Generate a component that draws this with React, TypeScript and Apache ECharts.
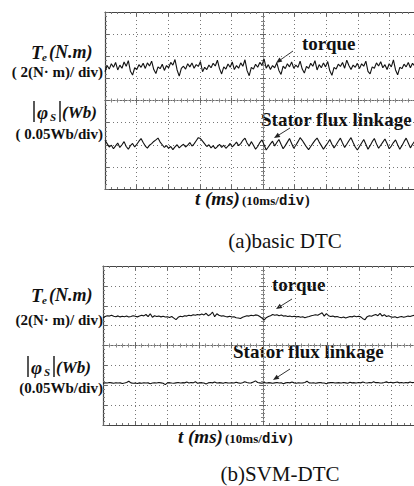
import React, { useEffect, useRef } from "react";
import * as echarts from "echarts";

// Oscilloscope traces, values in screen divisions (y: -4..4, centre = 0)
const torqueA = [
  1.30, 1.58, 1.42, 1.66, 1.50, 1.72, 1.38, 1.60, 1.46, 1.74,
  1.55, 1.80, 1.32, 1.15, 1.48, 1.40, 1.62, 1.50, 1.68, 1.45,
  1.70, 1.56, 1.78, 1.40, 1.22, 1.52, 1.44, 1.64, 1.36, 1.58,
  1.48, 1.72, 1.60, 1.85, 1.38, 1.10, 1.45, 1.55, 1.42, 1.66,
  1.52, 1.70, 1.46, 1.62, 1.54, 1.76, 1.30, 1.50, 1.40, 1.60,
  1.48, 1.68, 1.56, 1.82, 1.44, 1.20, 1.52, 1.42, 1.65, 1.50,
  1.74, 1.40, 1.58, 1.46, 1.70, 1.55, 1.84, 1.35, 1.12, 1.50,
  1.42, 1.64, 1.50, 1.72, 1.60, 1.88, 1.46, 1.62, 1.40, 1.58,
  1.48, 1.70, 1.36, 1.18, 1.55, 1.44, 1.66, 1.52, 1.74, 1.46,
  1.60, 1.50, 1.78, 1.42, 1.24, 1.54, 1.45, 1.68, 1.55, 1.80,
  1.38, 1.62, 1.48, 1.70, 1.52, 1.76, 1.34, 1.14, 1.50, 1.42,
  1.64, 1.54, 1.72, 1.46, 1.82, 1.58, 1.40, 1.60, 1.50, 1.68,
  1.44, 1.66, 1.55, 1.78, 1.32, 1.20, 1.52, 1.46, 1.70, 1.56,
  1.75, 1.48, 1.62, 1.40, 1.66, 1.52, 1.84, 1.38, 1.16, 1.50,
  1.44, 1.64, 1.52, 1.72, 1.48, 1.68, 1.56, 1.78, 1.42, 1.60,
];

const fluxA = [
  -1.80, -1.95, -2.10, -2.02, -2.18, -2.05, -1.92, -2.12, -2.00, -1.86,
  -2.08, -2.20, -2.04, -1.94, -2.10, -1.98, -1.84, -1.72, -1.90, -2.06,
  -2.15, -2.02, -1.95, -1.85, -1.78, -1.70, -1.88, -2.00, -2.12, -2.04,
  -2.16, -2.08, -2.22, -2.10, -2.00, -2.14, -2.05, -1.98, -2.10, -2.02,
  -1.90, -2.06, -1.96, -1.82, -1.68, -1.72, -1.84, -1.96, -2.08, -2.00,
  -2.14, -2.04, -2.18, -2.08, -1.98, -2.12, -2.02, -2.16, -2.06, -1.94,
  -2.10, -2.00, -1.88, -2.04, -1.95, -1.80, -1.70, -1.92, -2.06, -1.86,
  -2.02, -2.20, -2.08, -1.90, -1.78, -2.00, -2.24, -2.10, -1.96, -1.84,
  -2.06, -1.90, -1.76, -1.98, -2.18, -2.04, -1.88, -1.72, -1.94, -2.16,
  -2.02, -1.86, -1.68, -1.80, -1.95, -2.10, -2.22, -2.08, -1.94, -1.80,
  -1.70, -1.88, -2.04, -2.20, -2.06, -1.92, -1.76, -1.98, -2.14, -2.00,
  -1.84, -1.70, -1.92, -2.12, -1.98, -1.82, -1.68, -1.90, -2.10, -2.24,
  -2.08, -1.92, -1.76, -1.98, -2.20, -2.04, -1.86, -1.72, -1.96, -2.16,
  -2.02, -1.88, -1.74, -1.94, -2.18, -2.06, -1.90, -1.78, -2.00, -2.20,
  -2.04, -1.86, -1.70, -1.92, -2.14, -1.98, -1.84, -1.74, -1.90, -2.04,
];

const torqueB = [
  1.40, 1.46, 1.50, 1.48, 1.52, 1.47, 1.45, 1.49, 1.44, 1.47,
  1.45, 1.48, 1.43, 1.46, 1.50, 1.47, 1.44, 1.48, 1.52, 1.49,
  1.56, 1.45, 1.60, 1.42, 1.50, 1.46, 1.48, 1.44, 1.47, 1.43,
  1.45, 1.41, 1.46, 1.38, 1.30, 1.42, 1.47, 1.45, 1.50, 1.48,
  1.52, 1.50, 1.55, 1.52, 1.56, 1.53, 1.58, 1.54, 1.62, 1.50,
  1.56, 1.68, 1.45, 1.60, 1.52, 1.48, 1.50, 1.46, 1.44, 1.47,
  1.43, 1.45, 1.40, 1.38, 1.36, 1.42, 1.46, 1.50, 1.48, 1.52,
  1.50, 1.54, 1.52, 1.46, 1.38, 1.28, 1.40, 1.46, 1.50, 1.56,
  1.52, 1.55, 1.50, 1.53, 1.48, 1.50, 1.46, 1.48, 1.45, 1.47,
  1.44, 1.46, 1.42, 1.45, 1.40, 1.43, 1.46, 1.50, 1.52, 1.55,
  1.52, 1.58, 1.65, 1.48, 1.60, 1.50, 1.46, 1.48, 1.44, 1.46,
  1.42, 1.40, 1.43, 1.38, 1.42, 1.46, 1.44, 1.48, 1.45, 1.47,
  1.44, 1.35, 1.30, 1.45, 1.50, 1.47, 1.52, 1.56, 1.50, 1.62,
  1.48, 1.55, 1.46, 1.50, 1.44, 1.42, 1.45, 1.40, 1.43, 1.46,
  1.42, 1.45, 1.48, 1.46, 1.50, 1.52, 1.50, 1.54, 1.56, 1.55,
];

const fluxB = [
  -1.90, -1.88, -1.89, -1.86, -1.88, -1.90, -1.87, -1.89, -1.88, -1.91,
  -1.89, -1.86, -1.80, -1.88, -1.90, -1.89, -1.91, -1.88, -1.90, -1.87,
  -1.89, -1.88, -1.92, -1.89, -1.87, -1.89, -1.86, -1.88, -1.90, -1.97,
  -1.88, -1.87, -1.89, -1.90, -1.88, -1.86, -1.89, -1.87, -1.88, -1.84,
  -1.89, -1.86, -1.88, -1.82, -1.90, -1.88, -1.87, -1.89, -1.94, -1.88,
  -1.86, -1.88, -1.84, -1.89, -1.87, -1.88, -1.90, -1.86, -1.88, -1.89,
  -1.87, -1.89, -1.85, -1.88, -1.90, -1.87, -1.82, -1.86, -1.89, -1.88,
  -1.84, -1.78, -1.86, -1.88, -1.90, -1.86, -1.89, -1.87, -1.88, -1.90,
  -1.88, -1.86, -1.89, -1.87, -1.92, -1.88, -1.86, -1.88, -1.84, -1.88,
  -1.90, -1.87, -1.89, -1.88, -1.86, -1.80, -1.88, -1.89, -1.87, -1.90,
  -1.88, -1.86, -1.88, -1.89, -1.93, -1.88, -1.87, -1.86, -1.89, -1.88,
  -1.87, -1.89, -1.86, -1.88, -1.90, -1.85, -1.88, -1.87, -1.89, -1.86,
  -1.88, -1.84, -1.87, -1.89, -1.86, -1.88, -1.82, -1.87, -1.86, -1.89,
  -1.88, -1.86, -1.83, -1.87, -1.85, -1.88, -1.86, -1.84, -1.88, -1.86,
  -1.89, -1.86, -1.88, -1.84, -1.87, -1.86, -1.88, -1.85, -1.87, -1.86,
];

const captions = ["(a)basic DTC", "(b)SVM-DTC"];
const torqueLabel = "torque";
const fluxLabel = "Stator flux linkage";

const SERIF = "Liberation Serif, Times New Roman, serif";
const MONO = "Liberation Mono, DejaVu Sans Mono, monospace";

function toPairs(vals: number[]) {
  const n = vals.length;
  return vals.map((v, i) => [-5 + (10 * i) / (n - 1), v]);
}

const GRIDS = [
  { left: 105, top: 12, width: 316, height: 177 },
  { left: 103, top: 266, width: 320, height: 159 },
];

function buildAxes() {
  const xAxis: any[] = [];
  const yAxis: any[] = [];
  GRIDS.forEach((_, g) => {
    const xb = xAxis.length;
    const yl = yAxis.length;
    const common = {
      gridIndex: g,
      type: "value",
      min: -5,
      max: 5,
      interval: 1,
      axisLabel: { show: false },
    };
    xAxis.push({
      ...common,
      position: "bottom",
      axisLine: { onZero: false, lineStyle: { color: "#444", width: 1.2 } },
      axisTick: { show: true, inside: true, length: 4, lineStyle: { color: "#666" } },
      minorTick: { show: true, splitNumber: 5, length: 2, lineStyle: { color: "#777" } },
      splitLine: { show: true, lineStyle: { type: [1, 3], color: "#777" } },
    });
    xAxis.push({
      ...common,
      position: "top",
      axisLine: { onZero: false, lineStyle: { color: "#444", width: 1.2 } },
      axisTick: { show: true, inside: true, length: 4, lineStyle: { color: "#666" } },
      minorTick: { show: true, splitNumber: 5, length: 2, lineStyle: { color: "#777" } },
      splitLine: { show: false },
    });
    [true, false].forEach((inside) => {
      xAxis.push({
        ...common,
        position: "bottom",
        axisLine: { onZero: true, onZeroAxisIndex: yl, lineStyle: { type: [1, 2], color: "#666" } },
        axisTick: { show: true, inside, length: 3, lineStyle: { color: "#666" } },
        minorTick: { show: true, splitNumber: 5, length: 2, lineStyle: { color: "#888" } },
        splitLine: { show: false },
      });
    });
    const ycommon = {
      gridIndex: g,
      type: "value",
      min: -4,
      max: 4,
      interval: 1,
      axisLabel: { show: false },
    };
    yAxis.push({
      ...ycommon,
      position: "left",
      axisLine: { onZero: false, lineStyle: { color: "#444", width: 1.2 } },
      axisTick: { show: true, inside: true, length: 4, lineStyle: { color: "#666" } },
      minorTick: { show: true, splitNumber: 5, length: 2, lineStyle: { color: "#777" } },
      splitLine: { show: true, lineStyle: { type: [1, 3], color: "#777" } },
    });
    [true, false].forEach((inside) => {
      yAxis.push({
        ...ycommon,
        position: "left",
        axisLine: { onZero: true, onZeroAxisIndex: xb, lineStyle: { type: [1, 2], color: "#666" } },
        axisTick: { show: true, inside, length: 3, lineStyle: { color: "#666" } },
        minorTick: { show: true, splitNumber: 5, length: 2, lineStyle: { color: "#888" } },
        splitLine: { show: false },
      });
    });
  });
  return { xAxis, yAxis };
}

function txt(text: string, x: number, y: number, o: any = {}) {
  return {
    type: "text",
    x,
    y,
    silent: true,
    style: {
      text,
      fill: "#111",
      fontFamily: o.family || SERIF,
      fontSize: o.size || 14,
      fontWeight: o.weight || "bold",
      fontStyle: o.style || "normal",
      textAlign: o.align || "left",
      textVerticalAlign: o.valign || "middle",
    },
  };
}

function arrow(x1: number, y1: number, x2: number, y2: number) {
  const ang = Math.atan2(y2 - y1, x2 - x1);
  const L = 6;
  const W = 2.5;
  const bx = x2 - L * Math.cos(ang);
  const by = y2 - L * Math.sin(ang);
  const px = -Math.sin(ang) * W;
  const py = Math.cos(ang) * W;
  return [
    {
      type: "line",
      silent: true,
      shape: { x1, y1, x2: bx, y2: by },
      style: { stroke: "#333", lineWidth: 1 },
    },
    {
      type: "polygon",
      silent: true,
      shape: { points: [[x2, y2], [bx + px, by + py], [bx - px, by - py]] },
      style: { fill: "#222" },
    },
  ];
}

function phiLabel(x: number, y: number) {
  return [
    { type: "line", silent: true, shape: { x1: x, y1: y - 11, x2: x, y2: y + 10 }, style: { stroke: "#111", lineWidth: 1.4 } },
    txt("φ", x + 3, y, { size: 19, style: "italic" }),
    txt("S", x + 16, y + 5, { size: 11, style: "italic" }),
    { type: "line", silent: true, shape: { x1: x + 26, y1: y - 11, x2: x + 26, y2: y + 10 }, style: { stroke: "#111", lineWidth: 1.4 } },
    txt("(Wb)", x + 28, y, { size: 17, style: "italic" }),
  ];
}

function teLabel(x: number, y: number) {
  return [
    txt("T", x, y, { size: 19, style: "italic" }),
    txt("e", x + 11, y + 5, { size: 11, style: "italic" }),
    txt("(N.m)", x + 18, y, { size: 18, style: "italic" }),
  ];
}

// "t (ms)(10ms/div)" built from baseline-aligned pieces
function timeLabel(x: number, y: number) {
  return [
    txt("t (ms)", x, y, { size: 19, style: "italic", valign: "bottom" }),
    txt("(10ms/", x + 47, y - 1, { size: 13, valign: "bottom" }),
    txt("div", x + 84, y, { size: 14, family: MONO, valign: "bottom" }),
    txt(")", x + 110, y - 1, { size: 14, valign: "bottom" }),
  ];
}

export default function App() {
  const ref = useRef<HTMLDivElement>(null);
  useEffect(() => {
    if (!ref.current) return;
    const chart = echarts.init(ref.current, undefined, { renderer: "svg" });
    const { xAxis, yAxis } = buildAxes();
    // bottom x axis index per grid = g*4, left y axis index per grid = g*3
    const traces = [
      { data: torqueA, g: 0 },
      { data: fluxA, g: 0 },
      { data: torqueB, g: 1 },
      { data: fluxB, g: 1 },
    ];
    const graphic: any[] = [
      // panel (a)
      ...teLabel(31, 52),
      txt("( 2(N· m)/ div)", 103, 72, { align: "right", size: 15 }),
      ...phiLabel(34, 112),
      txt("( 0.05Wb/div)", 103, 134, { align: "right", size: 15 }),
      txt(torqueLabel, 302, 43, { size: 19 }),
      ...arrow(293, 51, 276, 63),
      txt(fluxLabel, 261, 119, { size: 19 }),
      ...arrow(290, 128, 274, 138),
      ...timeLabel(195, 208),
      txt(captions[0], 285, 241, { size: 21, weight: "normal", align: "center" }),
      // panel (b)
      ...teLabel(31, 295),
      txt("(2(N· m)/ div)", 103, 320, { align: "right", size: 15 }),
      ...phiLabel(28, 367),
      txt("(0.05Wb/div)", 103, 388, { align: "right", size: 15 }),
      txt(torqueLabel, 272, 284, { size: 19 }),
      ...arrow(292, 299, 276, 309),
      txt(fluxLabel, 233, 351, { size: 19 }),
      ...arrow(290, 369, 273, 380),
      ...timeLabel(178, 446),
      txt(captions[1], 280, 474, { size: 21, weight: "normal", align: "center" }),
    ];
    chart.setOption({
      animation: false,
      backgroundColor: "#fff",
      grid: GRIDS.map((g) => ({ ...g, containLabel: false })),
      xAxis,
      yAxis,
      series: traces.map((t) => ({
        type: "line",
        xAxisIndex: t.g * 4,
        yAxisIndex: t.g * 3,
        data: toPairs(t.data),
        showSymbol: false,
        symbol: "none",
        lineStyle: { color: "#111", width: 1.1 },
        silent: true,
      })),
      graphic,
    });
    return () => chart.dispose();
  }, []);
  return (
    <div style={{ position: "absolute", left: 0, top: 0, width: 414, height: 486, overflow: "hidden", background: "#fff" }}>
      <div ref={ref} style={{ width: 432, height: 486 }} />
    </div>
  );
}
